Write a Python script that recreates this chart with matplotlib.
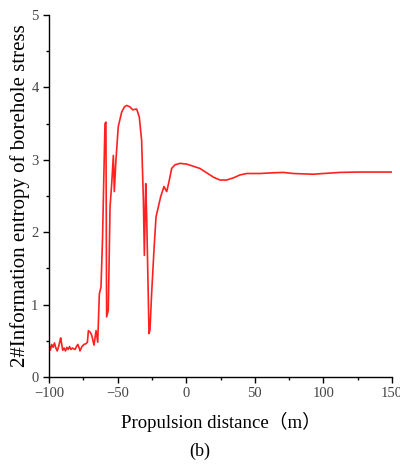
import numpy as np
from matplotlib import pyplot as plt
from matplotlib.ticker import MultipleLocator

# propulsion distance (m) and information entropy
distance = [-100, -99, -98, -97, -96, -95, -94, -93, -92, -91.5, -90, -89, -88, -87, -86,
            -85, -84, -83, -82, -81, -80, -79, -78, -77.4, -76, -74.5, -73, -72, -71.3,
            -70, -68.9, -67.2, -65.7, -64.5, -63.3, -62.1, -61, -60.4, -59.2, -58.5,
            -58, -56.8, -55.5, -54.3, -53.1, -52.4, -51.2, -49.5, -47, -45, -43.4,
            -41, -39, -36.1, -34.2, -32.5, -31.2, -30.5, -29.5, -28.8, -27.1, -26.4,
            -25.2, -23.5, -22, -20.3, -18.6, -16.2, -14.2, -12.5, -10.6, -8.2, -4.5,
            0.3, 5.2, 10, 14.9, 19.8, 24.6, 29.5, 34.4, 39.2, 44, 53.8, 63.5, 70.8,
            78.1, 92.7, 100, 112, 125, 150]
entropy = [0.46, 0.37, 0.45, 0.41, 0.47, 0.40, 0.36, 0.42, 0.50, 0.54, 0.37, 0.40, 0.36,
           0.41, 0.38, 0.42, 0.38, 0.40, 0.39, 0.38, 0.42, 0.45, 0.40, 0.36, 0.42, 0.45,
           0.46, 0.48, 0.64, 0.62, 0.58, 0.44, 0.64, 0.48, 1.15, 1.24, 1.9, 2.44, 3.50,
           3.52, 0.83, 0.92, 2.35, 2.67, 3.06, 2.56, 3.0, 3.46, 3.66, 3.73, 3.75, 3.73,
           3.69, 3.70, 3.59, 3.27, 2.44, 1.68, 2.67, 2.21, 0.60, 0.65, 1.15, 1.75, 2.21,
           2.35, 2.49, 2.63, 2.56, 2.70, 2.88, 2.93, 2.95, 2.94, 2.91, 2.88, 2.82, 2.76,
           2.72, 2.72, 2.75, 2.79, 2.81, 2.81, 2.82, 2.825, 2.81, 2.80, 2.81, 2.825,
           2.83, 2.83]

serif = ['Liberation Serif', 'Noto Sans CJK SC']

fig = plt.figure(figsize=(4, 4.66), dpi=100)
ax = fig.add_axes([0.1225, 0.191, 0.8575, 0.777])
ax.plot(distance, entropy, color='#ff2020', lw=1.2)

ax.set_xlim(-100, 150)
ax.set_ylim(0, 5)
ax.xaxis.set_major_locator(MultipleLocator(50))
ax.xaxis.set_minor_locator(MultipleLocator(25))
ax.yaxis.set_major_locator(MultipleLocator(1))
ax.yaxis.set_minor_locator(MultipleLocator(0.5))
for side in ['top', 'right']:
    ax.spines[side].set_visible(False)
for side in ['left', 'bottom']:
    ax.spines[side].set_linewidth(1.0)
ax.tick_params(which='major', direction='out', length=4, width=1, labelsize=10.5,
               labelcolor='#444444')
ax.tick_params(which='minor', direction='out', length=2.5, width=1)
for lab in ax.get_xticklabels() + ax.get_yticklabels():
    lab.set_family(serif)

ax.set_xlabel('Propulsion distance（m）', family=serif, fontsize=13.5, labelpad=8)
ax.set_ylabel('2#Information entropy of borehole stress', family=serif, fontsize=15,
              labelpad=1)
fig.text(0.5, 0.022, '(b)', family=serif, fontsize=13, ha='center')

fig.savefig('out.png', dpi=100)
